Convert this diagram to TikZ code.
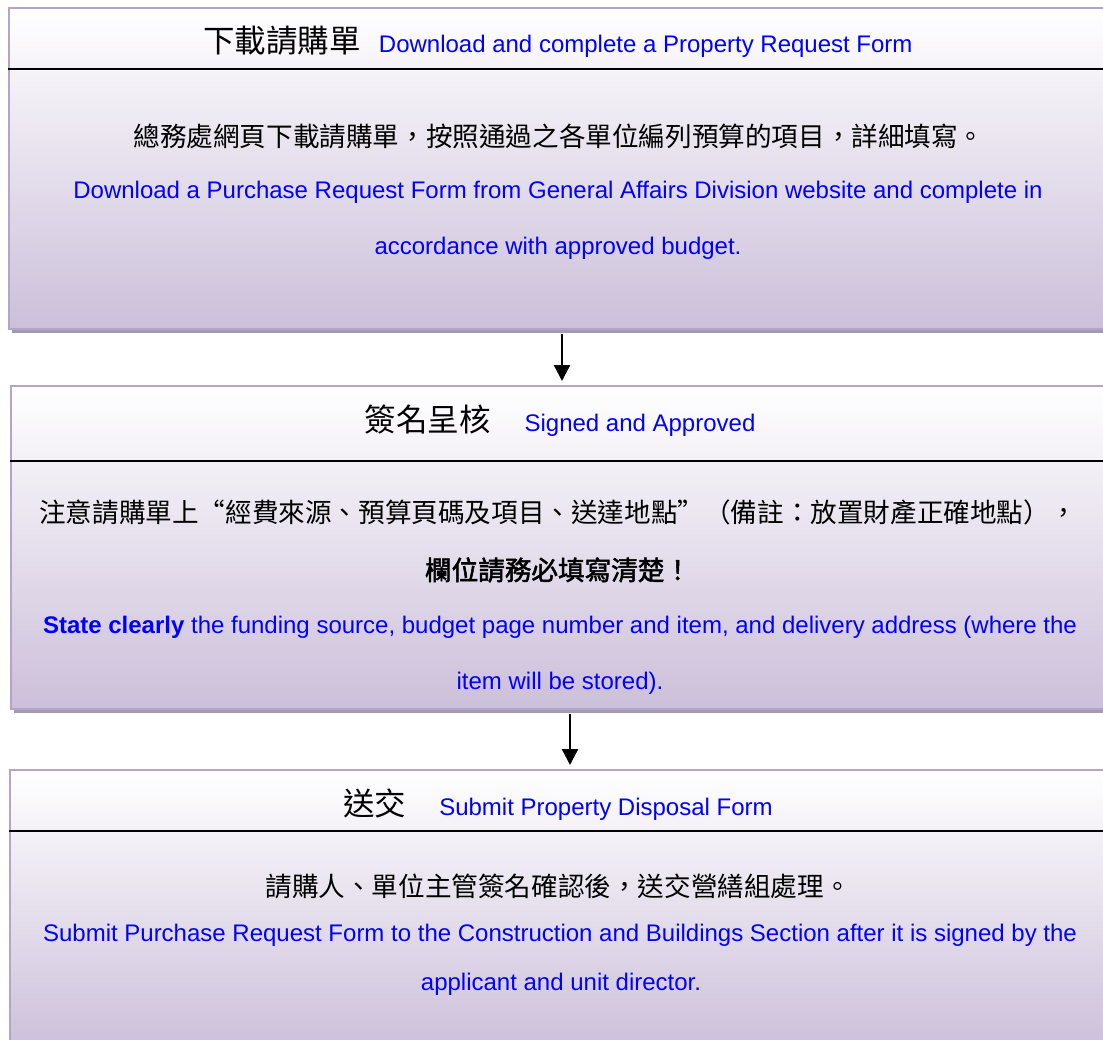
\documentclass[tikz,border=0pt]{standalone}
\usepackage{fontspec}
\setmainfont{Liberation Sans}
\newfontfamily\cjk{Noto Sans CJK TC}
\newfontfamily\cjkbold[FakeBold=2]{Noto Sans CJK TC}
\usetikzlibrary{arrows.meta,shadows}
\definecolor{frameline}{RGB}{180,164,202}
\definecolor{boxbottom}{RGB}{204,191,218}
\definecolor{boxshadow}{RGB}{164,154,172}
\definecolor{textblue}{RGB}{0,0,255}

\begin{document}
\begin{tikzpicture}[
  x=1pt,y=-1pt,
  font=\fontsize{24}{28}\selectfont,
  stepbox/.style={draw=frameline,line width=2pt,top color=white,bottom color=boxbottom,
    minimum width=1107pt,anchor=north west,inner sep=0pt,
    drop shadow={shadow xshift=3pt,shadow yshift=-4pt,fill=boxshadow,opacity=1}},
  headrule/.style={line width=1.6pt},
  heading/.style={anchor=base,inner sep=0pt},
  eng/.style={anchor=base,inner sep=0pt,text=textblue},
  zh/.style={anchor=base,inner sep=0pt,font=\cjk\fontsize{26.6}{30}\selectfont},
  flow/.style={-{Triangle[length=16pt,width=16pt]},line width=2.4pt,shorten <=4pt,shorten >=4pt}
]
\path[use as bounding box] (0,0) rectangle (1103,1039);
% the three steps
\node[stepbox,minimum height=321pt] (request) at (8,7) {};
\node[stepbox,minimum height=323pt] (approve) at (10,385) {};
\node[stepbox,minimum height=280pt] (submit) at (9,769) {};
\draw[headrule] ([yshift=-62pt]request.north west) -- ([yshift=-62pt]request.north east);
\draw[headrule] ([yshift=-76pt]approve.north west) -- ([yshift=-76pt]approve.north east);
\draw[headrule] ([yshift=-62pt]submit.north west) -- ([yshift=-62pt]submit.north east);
% step 1
\node[heading] (request-head) at (558,52) {{\cjk\fontsize{31.5}{34}\selectfont 下載請購單}\hspace{18pt}\textcolor{textblue}{Download and complete a Property Request Form}};
\node[zh] (request-zh) at (559,146) {總務處網頁下載請購單，按照通過之各單位編列預算的項目，詳細填寫。};
\node[eng] (request-en1) at (558,198) {Download a Purchase Request Form from General Affairs Division website and complete in};
\node[eng] (request-en2) at (558,254) {accordance with approved budget.};
% step 2
\node[heading] (approve-head) at (560,431) {{\cjk\fontsize{31.5}{34}\selectfont 簽名呈核}\hspace{34pt}\textcolor{textblue}{Signed and Approved}};
\node[zh] (approve-zh1) at (558,522) {注意請購單上“經費來源、預算頁碼及項目、送達地點”（備註：放置財產正確地點），};
\node[zh,font=\cjkbold\fontsize{26.6}{30}\selectfont] (approve-zh2) at (558,580) {欄位請務必填寫清楚！};
\node[eng] (approve-en1) at (560,633) {\textbf{State clearly} the funding source, budget page number and item, and delivery address (where the};
\node[eng] (approve-en2) at (560,689) {item will be stored).};
% step 3
\node[heading] (submit-head) at (558,815) {{\cjk\fontsize{31.5}{34}\selectfont 送交}\hspace{33pt}\textcolor{textblue}{Submit Property Disposal Form}};
\node[zh] (submit-zh) at (558,896) {請購人、單位主管簽名確認後，送交營繕組處理。};
\node[eng] (submit-en1) at (560,941) {Submit Purchase Request Form to the Construction and Buildings Section after it is signed by the};
\node[eng] (submit-en2) at (561,990) {applicant and unit director.};
% arrows
\draw[flow] ([xshift=-0.5pt]request.south) -- ([xshift=-0.5pt]request.south |- approve.north);
\draw[flow] ([xshift=5.5pt]approve.south) -- ([xshift=5.5pt]approve.south |- submit.north);
\end{tikzpicture}
\end{document}
